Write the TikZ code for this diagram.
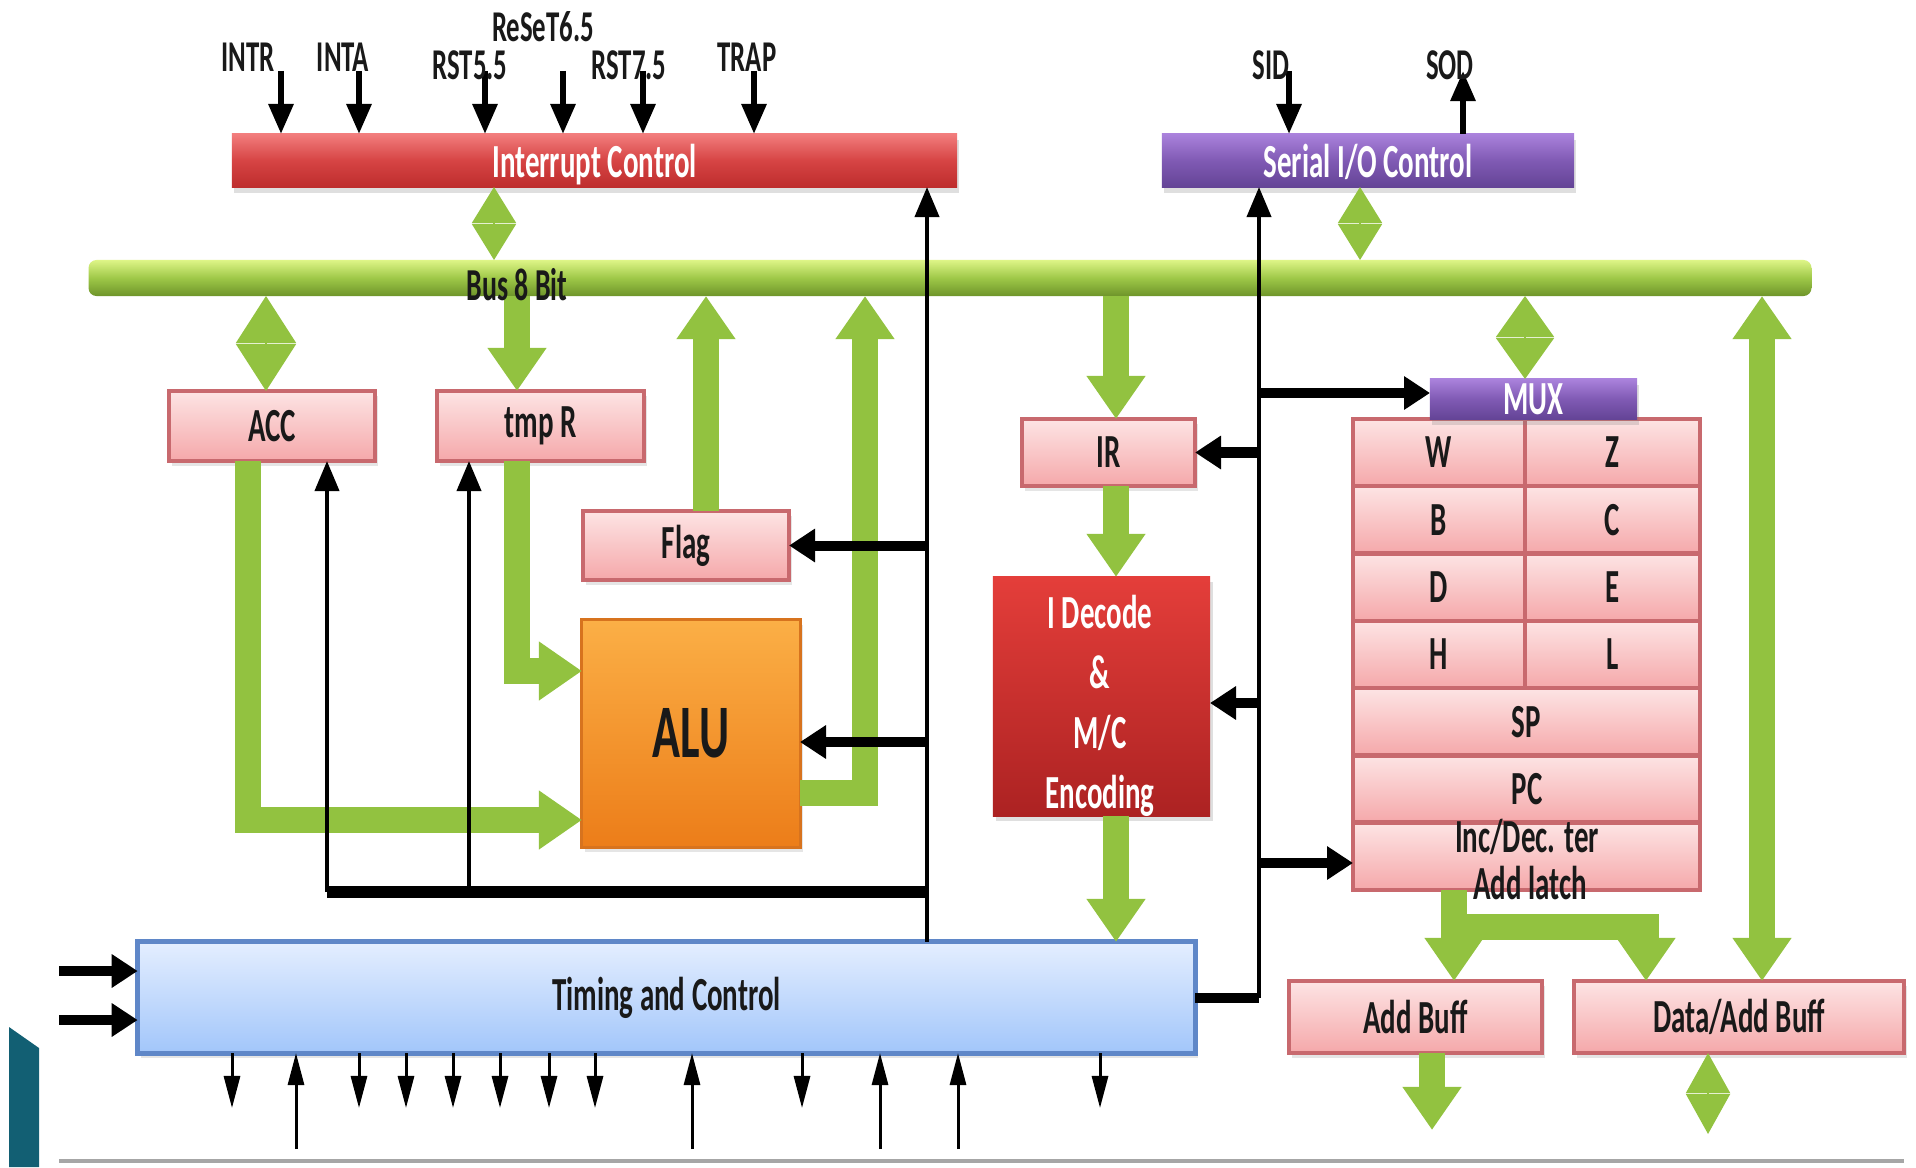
\documentclass[tikz,border=0pt]{standalone}
\usepackage{fontspec}
\newfontfamily\cf[FakeStretch=0.61]{Carlito}
\usetikzlibrary{arrows.meta,shadows}
\definecolor{gr}{RGB}{146,194,64}
\definecolor{busT}{RGB}{222,245,135}
\definecolor{busM}{RGB}{158,200,72}
\definecolor{busB}{RGB}{110,148,42}
\definecolor{pinkT}{RGB}{253,228,228}
\definecolor{pinkB}{RGB}{245,168,170}
\definecolor{pinkD}{RGB}{200,105,110}
\definecolor{redT}{RGB}{242,125,125}
\definecolor{redM}{RGB}{214,68,68}
\definecolor{redB}{RGB}{190,45,45}
\definecolor{purT}{RGB}{170,130,220}
\definecolor{purM}{RGB}{128,90,180}
\definecolor{purB}{RGB}{100,68,150}
\definecolor{oraT}{RGB}{251,175,70}
\definecolor{oraB}{RGB}{236,125,25}
\definecolor{oraD}{RGB}{215,115,30}
\definecolor{decT}{RGB}{228,62,58}
\definecolor{decB}{RGB}{172,34,34}
\definecolor{tcT}{RGB}{228,238,255}
\definecolor{tcB}{RGB}{162,198,250}
\definecolor{tcD}{RGB}{95,135,200}
\definecolor{tealc}{RGB}{18,95,115}
\definecolor{txt}{RGB}{25,25,25}
\tikzset{
  box/.style={inner sep=0pt, outer sep=0pt, font=\cf\bfseries\fontsize{13.5}{17}\selectfont},
  pinkbox/.style={box, draw=pinkD, line width=0.045cm, top color=pinkT, bottom color=pinkB, text=txt,
     drop shadow={opacity=0.2, shadow xshift=0.03cm, shadow yshift=-0.05cm}},
  cellbox/.style={box, draw=pinkD, line width=0.045cm, top color=pinkT, bottom color=pinkB, text=txt},
  redbar/.style={box, top color=redT, bottom color=redB, middle color=redM, text=white,
     drop shadow={opacity=0.25, shadow xshift=0.02cm, shadow yshift=-0.06cm}},
  purpbar/.style={box, top color=purT, bottom color=purB, middle color=purM, text=white,
     drop shadow={opacity=0.25, shadow xshift=0.02cm, shadow yshift=-0.06cm}},
  alubox/.style={box, draw=oraD, line width=0.03cm, top color=oraT, bottom color=oraB, text=txt,
     font=\cf\bfseries\fontsize{21.5}{24}\selectfont,
     drop shadow={opacity=0.2, shadow xshift=0.03cm, shadow yshift=-0.05cm}},
  decbox/.style={box, top color=decT, bottom color=decB,
     drop shadow={opacity=0.25, shadow xshift=0.03cm, shadow yshift=-0.05cm}},
  tcbox/.style={box, draw=tcD, line width=0.05cm, top color=tcT, bottom color=tcB, text=txt,
     drop shadow={opacity=0.2, shadow xshift=0.03cm, shadow yshift=-0.05cm}},
  busbar/.style={inner sep=0pt, outer sep=0pt, rounded corners=0.08cm, top color=busT, bottom color=busB, middle color=busM},
  lbl/.style={inner sep=0pt, text=txt, font=\cf\bfseries\fontsize{12.5}{15}\selectfont},
  garrow/.style={draw=gr, line width=0.26cm, -{Triangle[length=0.43cm,width=0.56cm]}},
  gboth/.style={draw=gr, line width=0.26cm, {Triangle[length=0.43cm,width=0.56cm]}-{Triangle[length=0.43cm,width=0.56cm]}},
  gdiam/.style 2 args={draw=gr, line width=0.5pt, {Triangle[length=#1,width=#2]}-{Triangle[length=#1,width=#2]}},
  blkthin/.style={draw=black, line width=0.04cm, -{Triangle[length=0.3cm,width=0.24cm]}},
  blkthick/.style={draw=black, line width=0.1cm, -{Triangle[length=0.26cm,width=0.32cm]}},
  blkin/.style={draw=black, line width=0.06cm, -{Triangle[length=0.3cm,width=0.24cm]}},
  blksmall/.style={draw=black, line width=0.03cm, -{Triangle[length=0.32cm,width=0.16cm]}},
}
\begin{document}
\begin{tikzpicture}[x=0.01cm,y=-0.01cm]
\useasboundingbox[fill=white] (0,0) rectangle (1916,1167);

% decorative teal shape and bottom line
\fill[tealc] (9,1027) -- (39,1048) -- (39,1167) -- (9,1167) -- cycle;
\draw[gray!70, line width=0.04cm] (59,1161) -- (1904,1161);

% bus
\node[busbar, minimum width=17.22cm, minimum height=0.36cm] (bus) at (950,278) {};

% boxes
\node[redbar, minimum width=7.25cm, minimum height=0.53cm, text depth=-0.05cm] (intc) at (594.5,160.5) {Interrupt Control};
\node[purpbar, minimum width=4.12cm, minimum height=0.53cm, text depth=-0.05cm] (sio) at (1368,160.5) {Serial I/O Control};
\node[pinkbox, minimum width=2.06cm, minimum height=0.70cm] (acc) at (272,426) {ACC};
\node[pinkbox, minimum width=2.07cm, minimum height=0.70cm] (tmpr) at (540.5,426) {tmp R};
\node[pinkbox, minimum width=2.06cm, minimum height=0.69cm] (flag) at (686,545.5) {Flag};
\node[alubox, minimum width=2.18cm, minimum height=2.27cm] (alu) at (691,733.5) {ALU};
\node[pinkbox, minimum width=1.73cm, minimum height=0.67cm] (ir) at (1108.5,452.5) {IR};
\node[decbox, minimum width=2.17cm, minimum height=2.39cm] (idec) at (1101.5,696.5) {};
\node[box, text=white, align=center] (idectxt) at (1100,706) {I Decode\\\&\\M/C\\Encoding};
\node[pinkbox, minimum width=2.53cm, minimum height=0.72cm] (addbuff) at (1415.5,1017) {Add Buff};
\node[pinkbox, minimum width=3.30cm, minimum height=0.72cm] (databuff) at (1739,1017) {Data/Add Buff};
\node[tcbox, minimum width=10.57cm, minimum height=1.11cm] (tc) at (666.5,997.5) {Timing and Control};

% register file
\node[cellbox, minimum width=1.72cm, minimum height=0.673cm] (rW) at (1439,452.6) {W};
\node[cellbox, minimum width=1.75cm, minimum height=0.673cm] (rZ) at (1612.5,452.6) {Z};
\node[cellbox, minimum width=1.72cm, minimum height=0.673cm] (rB) at (1439,519.9) {B};
\node[cellbox, minimum width=1.75cm, minimum height=0.673cm] (rC) at (1612.5,519.9) {C};
\node[cellbox, minimum width=1.72cm, minimum height=0.673cm] (rD) at (1439,587.2) {D};
\node[cellbox, minimum width=1.75cm, minimum height=0.673cm] (rE) at (1612.5,587.2) {E};
\node[cellbox, minimum width=1.72cm, minimum height=0.673cm] (rH) at (1439,654.5) {H};
\node[cellbox, minimum width=1.75cm, minimum height=0.673cm] (rL) at (1612.5,654.5) {L};
\node[cellbox, minimum width=3.47cm, minimum height=0.673cm] (rSP) at (1526.5,721.8) {SP};
\node[cellbox, minimum width=3.47cm, minimum height=0.673cm] (rPC) at (1526.5,789.1) {};
\node[cellbox, minimum width=3.47cm, minimum height=0.673cm] (rInc) at (1526.5,856.4) {};
\node[lbl, font=\cf\bfseries\fontsize{13.5}{16}\selectfont] (pctxt) at (1527,789) {PC};
\node[lbl, font=\cf\bfseries\fontsize{13.5}{16}\selectfont] (incdec) at (1527,837) {Inc/Dec. ter};
\node[lbl, font=\cf\bfseries\fontsize{13.5}{16}\selectfont] (addlatch) at (1530,883) {Add latch};
\node[purpbar, minimum width=2.07cm, minimum height=0.40cm] (mux) at (1533.5,399) {MUX};

% green diamonds (bidirectional)
\coordinate (d1) at (494,0);
\coordinate (d2) at (1360,0);
\coordinate (d3) at (266,0);
\coordinate (d4) at (1525,0);
\draw[gdiam={0.36cm}{0.44cm}] (intc.south -| d1) -- (bus.north -| d1);
\draw[gdiam={0.36cm}{0.44cm}] (sio.south -| d2) -- (bus.north -| d2);
\draw[gdiam={0.47cm}{0.6cm}] (bus.south -| d3) -- (acc.north -| d3);
\draw[gdiam={0.41cm}{0.58cm}] (bus.south -| d4) -- (mux.north -| d4);

% green arrows
\coordinate (tmpalu) at (517,671);
\coordinate (accalu) at (248,820);
\coordinate (alubus) at (865,793);
\coordinate (flagx) at (706,0);
\coordinate (irx) at (1116,0);
\coordinate (rx) at (1762,0);
\coordinate (alx) at (1454,927);
\coordinate (alx2) at (1646,927);
\coordinate (abx) at (1432,1130);
\coordinate (dbx) at (1708,1134);
\draw[garrow] (bus.south -| tmpalu) -- (tmpr.north -| tmpalu);
\draw[garrow] (tmpr.south -| tmpalu) -- (tmpalu) -- (tmpalu -| alu.west);
\draw[garrow] (acc.south -| accalu) -- (accalu) -- (accalu -| alu.west);
\draw[garrow] (alu.east |- alubus) -- (alubus) -- (alubus |- bus.south);
\draw[garrow] (flag.north -| flagx) -- (bus.south -| flagx);
\draw[garrow] (bus.south -| irx) -- (ir.north -| irx);
\draw[garrow] (ir.south -| irx) -- (idec.north -| irx);
\draw[garrow] (idec.south -| irx) -- (tc.north -| irx);
\draw[gboth] (bus.south -| rx) -- (databuff.north -| rx);
\draw[garrow] (rInc.south -| alx) -- (addbuff.north -| alx);
\draw[garrow] (alx) -- (alx2) -- (alx2 |- databuff.north);
\draw[garrow] (addbuff.south -| abx) -- (abx);
\draw[gdiam={0.40cm}{0.44cm}] (databuff.south -| dbx) -- (dbx);

% black control lines (left)
\coordinate (cl) at (927,0);
\coordinate (barL) at (327,892);
\coordinate (barM) at (469,892);
\coordinate (alua) at (800,742);
\draw[blkthin] (tc.north -| cl) -- (intc.south -| cl);
\draw[draw=black, line width=0.12cm] (barL) -- (barL -| cl);
\draw[blkthin] (barL) -- (barL |- acc.south);
\draw[blkthin] (barM) -- (barM |- tmpr.south);
\draw[blkthick] (cl |- flag.east) -- (flag.east);
\draw[blkthick] (cl |- alua) -- (alua);

% black control lines (right)
\coordinate (cr) at (1259,0);
\coordinate (ida) at (1210,703);
\coordinate (inca) at (1353,863);
\coordinate (muxa) at (1430,393);
\draw[draw=black, line width=0.1cm] (tc.east) -- (tc.east -| cr);
\draw[blkthin] (tc.east -| cr) -- (sio.south -| cr);
\draw[blkthick] (cr |- ir.east) -- (ir.east);
\draw[blkthick] (cr |- ida) -- (ida);
\draw[blkthick] (cr |- muxa) -- (muxa);
\draw[blkthick] (cr |- inca) -- (inca);

% timing inputs on the left
\coordinate (tl1) at (59,971);
\coordinate (tl2) at (59,1020);
\draw[blkthick] (tl1) -- (tl1 -| tc.west);
\draw[blkthick] (tl2) -- (tl2 -| tc.west);

% bottom arrows of timing and control
\foreach \x [count=\i] in {232,359,406,453,500,549,595,802,1100} {
  \coordinate (bd\i) at (\x,1108);
  \draw[blksmall] (tc.south -| bd\i) -- (bd\i);
}
\foreach \x [count=\i] in {296,692,880,958} {
  \coordinate (bu\i) at (\x,1149);
  \draw[blksmall] (bu\i) -- (bu\i |- tc.south);
}

% interrupt inputs
\foreach \x [count=\i] in {281,359,485,563,643,754} {
  \coordinate (ti\i) at (\x,71);
  \draw[blkin] (ti\i) -- (ti\i |- intc.north);
}
\node[lbl] (lintr) at (248,57) {INTR};
\node[lbl] (linta) at (343,57) {INTA};
\node[lbl] (lrst55) at (470,65) {RST5.5};
\node[lbl] (lrst65) at (543,27) {ReSeT6.5};
\node[lbl] (lrst75) at (629,65) {RST7.5};
\node[lbl] (ltrap) at (747,57) {TRAP};

% serial I/O
\coordinate (sid) at (1289,71);
\coordinate (sod) at (1463,71);
\draw[blkin] (sid) -- (sid |- sio.north);
\draw[blkin] (sod |- sio.north) -- (sod);
\node[lbl] (lsid) at (1271,65) {SID};
\node[lbl] (lsod) at (1450,65) {SOD};

% bus label
\node[lbl, font=\cf\bfseries\fontsize{13}{15}\selectfont] (buslbl) at (517,285) {Bus 8 Bit};
\end{tikzpicture}
\end{document}
